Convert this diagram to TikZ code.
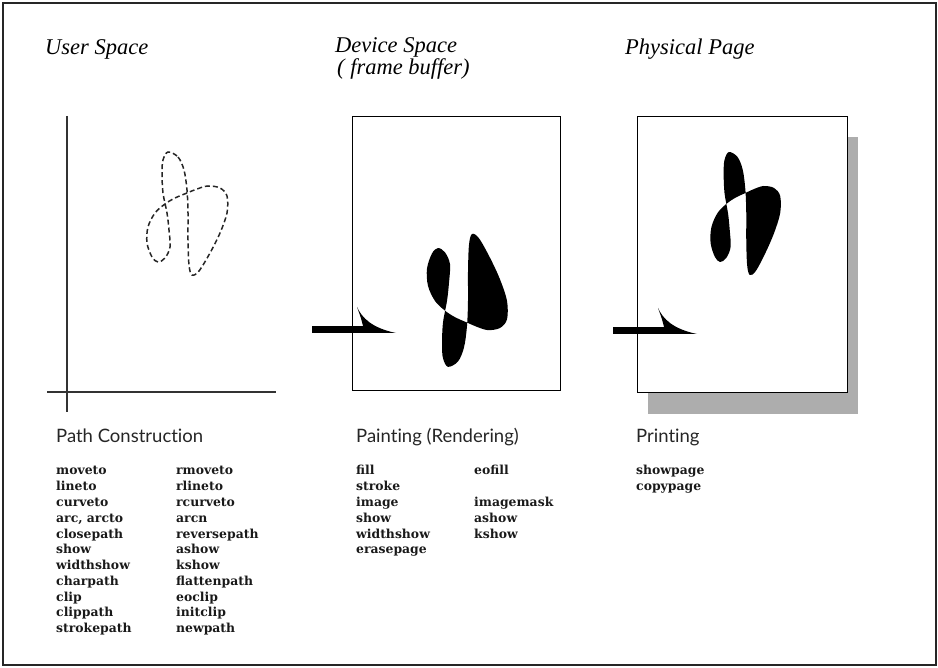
\documentclass[tikz,border=0pt]{standalone}
\usepackage{fontspec}
\setmainfont{Liberation Serif}
\newfontfamily\headsans[Ligatures=NoCommon]{Lato}
\newfontfamily\opfont{DejaVu Serif}

% the self-crossing path, in user-space units
\newcommand{\loopshape}[1]{%
  \path[#1] plot[smooth cycle,tension=0.55] coordinates {
    (168,152) (178,157) (184,170) (187,190) (188,213) (188,240) (189,265)
    (192,275) (199,271) (210,253) (220,233) (227,213) (227,196) (220,188)
    (208,186) (197,189) (187,193) (175,198) (165,204) (155,213) (148,227)
    (147,243) (152,257) (158,262) (165,258) (170,247) (169,230) (167,213)
    (163,193) (162,173) (163,160)};}

% thick bar with a curved half-barb
\newcommand{\bentarrow}[1]{%
  \begin{scope}[shift={#1}]
    \fill (0,0) rectangle (53,7);
    \fill (45,-19) .. controls (50,-8) and (60,2) .. (84,7) -- (50,7) -- (51,0)
          .. controls (49,-8) .. (45,-19) -- cycle;
  \end{scope}}

\begin{document}
\begin{tikzpicture}[x=1pt,y=-1pt,
  pageframe/.style={draw=black,line width=1.1pt,inner sep=0pt,anchor=north west},
  title/.style={anchor=base west,inner sep=0pt,font=\fontsize{22.5}{24}\selectfont\itshape},
  section/.style={anchor=base west,inner sep=0pt,font=\headsans\fontsize{18.5}{20}\selectfont,text=black!85},
  op/.style={anchor=base west,inner sep=0pt,font=\opfont\bfseries\fontsize{12.4}{14}\selectfont,text=black!90},
  axis/.style={draw=black!80,line width=1.3pt},
  pathline/.style={draw=black!85,line width=1.5pt,dash pattern=on 5pt off 3pt}]

\useasboundingbox (0,0) rectangle (938,668);
\draw[line width=1.6pt,draw=black!85] (3,3) rectangle (936,665);

% titles
\node[title] (tuser) at (45,55) {User Space};
\node[title] (tdev)  at (335,53) {Device Space};
\node[title] (tbuf)  at (337,75) {( frame buffer)};
\node[title] (tphys) at (625,55) {Physical Page};

% user space: axes and the dashed path
\draw[axis] (67,116) -- (67,412);
\draw[axis] (47,392) -- (276,392);
\loopshape{pathline}

% device space
\node[pageframe,minimum width=208pt,minimum height=274pt] (devpage) at (352,116) {};
\begin{scope}[shift={(280,531)},yscale=-1.08]
  \loopshape{fill=black}
\end{scope}
\bentarrow{(312,326)}

% physical page with drop shadow
\fill[black!32] (648,137) rectangle (858,414);
\node[pageframe,fill=white,minimum width=210pt,minimum height=276pt] (physpage) at (637,116) {};
\begin{scope}[shift={(582.7,0)},xscale=0.87]
  \loopshape{fill=black}
\end{scope}
\bentarrow{(613,327)}

% operator lists
\node[section] (hpath)  at (56,443)  {Path Construction};
\node[section] (hpaint) at (356,443) {Painting (Rendering)};
\node[section] (hprint) at (636,443) {Printing};

\foreach \t [count=\i] in {moveto,lineto,curveto,{arc, arcto},closepath,show,widthshow,charpath,clip,clippath,strokepath}
  \node[op] (pcl\i) at (56,{475+15.75*(\i-1)}) {\t};
\foreach \t [count=\i] in {rmoveto,rlineto,rcurveto,arcn,reversepath,ashow,kshow,flattenpath,eoclip,initclip,newpath}
  \node[op] (pcr\i) at (176,{475+15.75*(\i-1)}) {\t};

\foreach \t [count=\i] in {fill,stroke,image,show,widthshow,erasepage}
  \node[op] (pnl\i) at (356,{475+15.75*(\i-1)}) {\t};
\node[op] (pnr1) at (474,475) {eofill};
\node[op] (pnr3) at (474,{475+15.75*2}) {imagemask};
\node[op] (pnr4) at (474,{475+15.75*3}) {ashow};
\node[op] (pnr5) at (474,{475+15.75*4}) {kshow};

\node[op] (pr1) at (636,475) {showpage};
\node[op] (pr2) at (636,{475+15.75}) {copypage};
\end{tikzpicture}
\end{document}
